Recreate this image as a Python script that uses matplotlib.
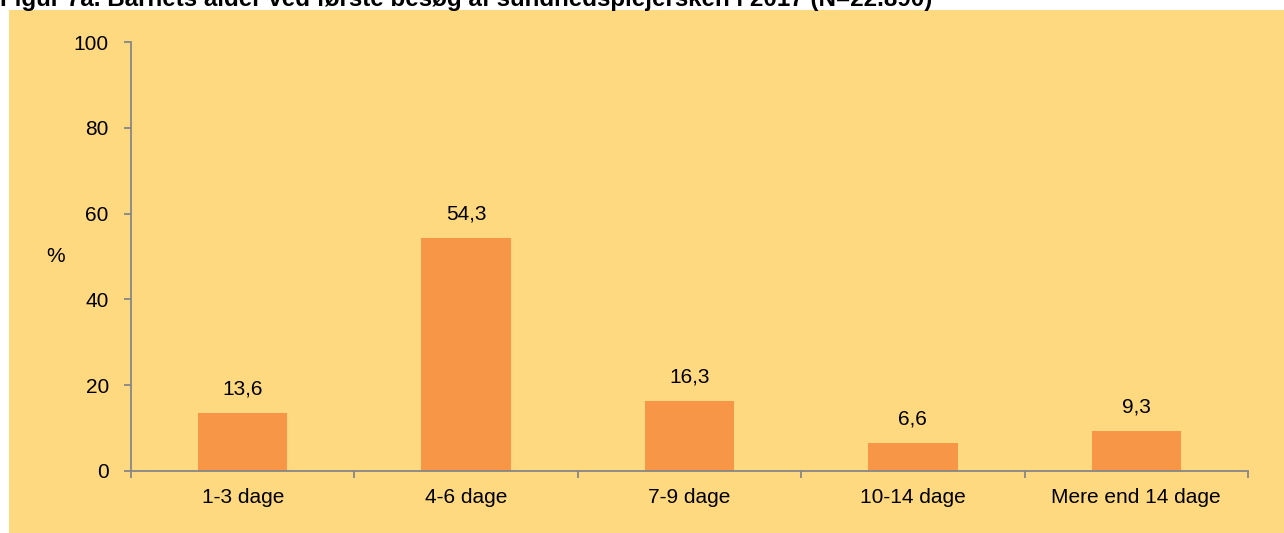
import matplotlib
matplotlib.use("Agg")
from matplotlib import pyplot as plt
from matplotlib.patches import Rectangle

plt.rcParams['font.family'] = ['Liberation Sans', 'DejaVu Sans']

categories = ["1-3 dage", "4-6 dage", "7-9 dage", "10-14 dage", "Mere end 14 dage"]
values = [13.6, 54.3, 16.3, 6.6, 9.3]
value_labels = ["13,6", "54,3", "16,3", "6,6", "9,3"]
y_ticks = [0, 20, 40, 60, 80, 100]

bg = "#FFD97F"
bar_color = "#F79646"
axis_color = "#868686"
fs = 15

fig = plt.figure(figsize=(12.84, 5.33), dpi=100, facecolor="white")

# yellow panel behind the chart
fig.patches.append(Rectangle((9 / 1284, 0), 1, 1 - 10 / 533, transform=fig.transFigure,
                             facecolor=bg, edgecolor="none", zorder=-5))

fig.text(0.0, 1 - 6 / 533,
         "Figur 7a. Barnets alder ved første besøg af sundhedsplejersken i 2017 (N=22.890)",
         fontsize=17.4, fontweight="bold", ha="left", va="baseline")

ax = fig.add_axes([131 / 1284, 1 - 471 / 533, (1248 - 131) / 1284, (471 - 42) / 533])
ax.set_facecolor("none")
ax.set_zorder(1)

x = list(range(len(categories)))
ax.bar(x, values, width=0.4, color=bar_color, zorder=2)
for xi, v, lab in zip(x, values, value_labels):
    ax.annotate(lab, (xi, v), xytext=(0, 10.5), textcoords="offset points",
                ha="center", va="bottom", fontsize=fs)

ax.set_xlim(-0.5, len(categories) - 0.5)
ax.set_ylim(0, 100)
ax.set_yticks(y_ticks)
ax.set_yticklabels([str(t) for t in y_ticks], fontsize=fs)
ax.set_xticks(x)
ax.set_xticklabels(categories, fontsize=fs)
ax.tick_params(axis="x", length=0, pad=12)
ax.set_xticks([i - 0.5 for i in range(len(categories) + 1)], minor=True)
ax.tick_params(axis="x", which="minor", length=5, color=axis_color, width=1.3)
ax.tick_params(axis="y", length=5, color=axis_color, width=1.3, pad=11)

for side in ["top", "right"]:
    ax.spines[side].set_visible(False)
for side in ["left", "bottom"]:
    ax.spines[side].set_color(axis_color)
    ax.spines[side].set_linewidth(1.3)

fig.text(56 / 1284, 1 - 256 / 533, "%", fontsize=fs, ha="center", va="center")

fig.savefig("out.png", dpi=100, facecolor="white")
